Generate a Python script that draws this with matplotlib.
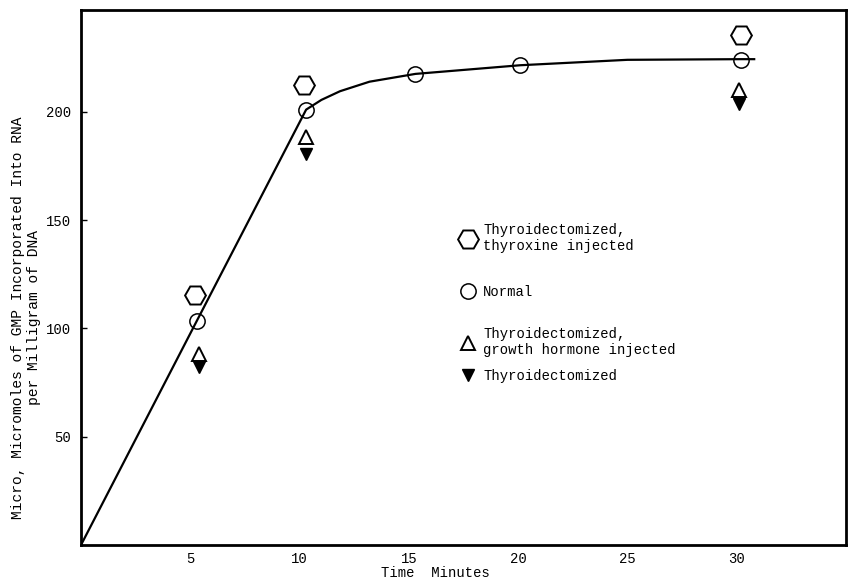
import matplotlib
matplotlib.use("Agg")
import matplotlib.pyplot as plt
from matplotlib.lines import Line2D
from matplotlib.legend import Legend

plt.rcParams['font.family'] = ['Liberation Mono', 'DejaVu Sans Mono']
plt.rcParams['font.size'] = 10

# values (time in minutes, micromoles GMP per mg DNA)
curve_x = [0, 5.3, 10.3, 11.0, 11.85, 13.2, 15.3, 20.1, 25.0, 30.2, 30.8]
curve_y = [0, 103.5, 201, 205.5, 209.5, 213.9, 217.5, 221.5, 224.0, 224.3, 224.3]

normal_x = [5.3, 10.3, 15.3, 20.1, 30.2]
normal_y = [103.5, 201, 217.5, 221.5, 224]

thyroxine_x = [5.2, 10.2, 30.2]
thyroxine_y = [115.5, 212.5, 235.6]

growth_x = [5.4, 10.3, 30.1]
growth_y = [88, 188.5, 210]

thyroid_x = [5.4, 10.3, 30.1]
thyroid_y = [82, 180.6, 203.7]

x_ticks = [5, 10, 15, 20, 25, 30]
y_ticks = [50, 100, 150, 200]

fig = plt.figure(figsize=(8.52, 5.82), dpi=100)
ax = fig.add_axes([81 / 852, 37 / 582, 765 / 852, 535 / 582])

ax.plot(curve_x, curve_y, color='black', linewidth=1.6, zorder=2)

hex_style = dict(marker='H', markersize=15, markerfacecolor='white',
                 markeredgecolor='black', markeredgewidth=1.4, linestyle='none')
circ_style = dict(marker='o', markersize=11, markerfacecolor='none',
                  markeredgecolor='black', markeredgewidth=1.1, linestyle='none')
tri_style = dict(marker='^', markersize=10, markerfacecolor='white',
                 markeredgecolor='black', markeredgewidth=1.4, linestyle='none')
dtri_style = dict(marker='v', markersize=8, markerfacecolor='black',
                  markeredgecolor='black', linestyle='none')

ax.plot(thyroxine_x, thyroxine_y, zorder=3, **hex_style)
ax.plot(normal_x, normal_y, zorder=3, **circ_style)
ax.plot(growth_x, growth_y, zorder=3, **tri_style)
ax.plot(thyroid_x, thyroid_y, zorder=3, **dtri_style)

ax.set_xlim(0, 35)
ax.set_ylim(0, 247)
ax.set_xticks(x_ticks)
ax.set_yticks(y_ticks)
ax.tick_params(axis='x', length=0, pad=5, labelsize=10)
ax.tick_params(axis='y', direction='in', length=4, width=1, pad=7, labelsize=10)
for s in ax.spines.values():
    s.set_linewidth(2)

# key: one small legend per entry so the uneven typed spacing can be kept
entries = [
    (hex_style, 'Thyroidectomized,\nthyroxine injected', 0.574),
    (circ_style, 'Normal', 0.473),
    (tri_style, 'Thyroidectomized,\ngrowth hormone injected', 0.379),
    (dtri_style, 'Thyroidectomized', 0.316),
]
for style, label, ypos in entries:
    h = Line2D([], [], **style)
    leg = Legend(ax, [h], [label], loc='center left', bbox_to_anchor=(0.495, ypos),
                 frameon=False, borderpad=0, borderaxespad=0,
                 handlelength=1.2, handletextpad=0.5, fontsize=10)
    ax.add_artist(leg)

fig.text(435 / 852, 1 - 573 / 582, 'Time  Minutes', ha='center', va='center', fontsize=10)
fig.text(26 / 852, 1 - 318 / 582,
         'Micro, Micromoles of GMP Incorporated Into RNA\nper Milligram of DNA',
         rotation=90, ha='center', va='center', multialignment='center',
         fontsize=10.5, linespacing=1.25)

fig.savefig('out.png', dpi=100)
